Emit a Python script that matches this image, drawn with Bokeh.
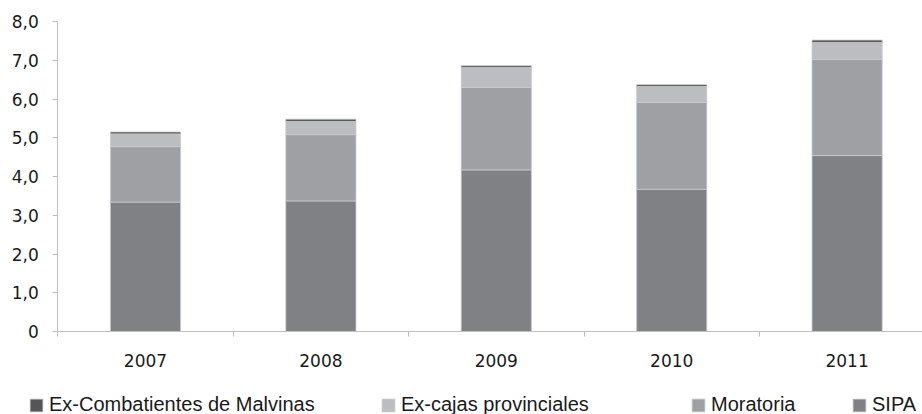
from bokeh.plotting import figure
from bokeh.models import FixedTicker, Legend, LegendItem, ColumnDataSource, Range1d
from bokeh.embed import file_html
from bokeh.resources import INLINE

# ---- data ----
years = ["2007", "2008", "2009", "2010", "2011"]
sipa = [3.34, 3.37, 4.17, 3.67, 4.54]
moratoria = [1.43, 1.71, 2.13, 2.24, 2.48]
ex_cajas = [0.33, 0.34, 0.51, 0.41, 0.44]
ex_combatientes = [0.05, 0.06, 0.05, 0.05, 0.06]

series_keys = ["sipa", "moratoria", "ex_cajas", "ex_combatientes"]
series_names = ["SIPA", "Moratoria", "Ex-cajas provinciales", "Ex-Combatientes de Malvinas"]
series_colors = ["#808185", "#9fa0a4", "#bcbdc1", "#555557"]

y_ticks = [0, 1, 2, 3, 4, 5, 6, 7, 8]
y_tick_labels = ["0", "1,0", "2,0", "3,0", "4,0", "5,0", "6,0", "7,0", "8,0"]

# ---- build ----
x_centers = [i + 0.5 for i in range(len(years))]
source = ColumnDataSource(dict(x=x_centers, sipa=sipa, moratoria=moratoria,
                               ex_cajas=ex_cajas, ex_combatientes=ex_combatientes))

W, H = 922, 414
px_x = 175.4          # pixels per category
px_y = 38.75          # pixels per unit
x0_px, y0_px = 57.3, 331.0
x_range = Range1d(-x0_px / px_x, (W - x0_px) / px_x)
y_range = Range1d(-(H - y0_px) / px_y, y0_px / px_y)

p = figure(width=W, height=H, x_range=x_range, y_range=y_range,
           output_backend="svg", toolbar_location=None,
           min_border_left=0, min_border_right=0,
           min_border_top=0, min_border_bottom=0)

renderers = p.vbar_stack(series_keys, x="x", width=0.4, source=source,
                         fill_color=series_colors, line_color="#c9c9cb",
                         line_width=0.8)

axis_col = "#bfbfbf"
tick_font = "DejaVu Sans"

# x axis (at y = 0)
p.xaxis.fixed_location = 0
p.xaxis.ticker = FixedTicker(ticks=x_centers, minor_ticks=list(range(len(years) + 1)))
p.xaxis.major_label_overrides = {xc: y for xc, y in zip(x_centers, years)}
p.xaxis.major_tick_line_color = None
p.xaxis.major_tick_out = 5
p.xaxis.major_tick_in = 0
p.xaxis.minor_tick_line_color = axis_col
p.xaxis.minor_tick_out = 5
p.xaxis.minor_tick_in = 0
p.xaxis.axis_line_color = axis_col
p.xaxis.bounds = (0, len(years))
p.xaxis.major_label_standoff = 17
p.xaxis.major_label_text_font = tick_font
p.xaxis.major_label_text_font_size = "17px"
p.xaxis.major_label_text_color = "#1a1a1a"

# y axis (at x = 0)
p.yaxis.fixed_location = 0
p.yaxis.ticker = FixedTicker(ticks=y_ticks)
p.yaxis.major_label_overrides = {t: l for t, l in zip(y_ticks, y_tick_labels)}
p.yaxis.major_tick_line_color = axis_col
p.yaxis.major_tick_out = 5
p.yaxis.major_tick_in = 0
p.yaxis.minor_tick_line_color = None
p.yaxis.axis_line_color = axis_col
p.yaxis.bounds = (0, 8)
p.yaxis.major_label_standoff = 14
p.yaxis.major_label_text_font = tick_font
p.yaxis.major_label_text_font_size = "17px"
p.yaxis.major_label_text_color = "#1a1a1a"

p.xgrid.visible = False
p.ygrid.visible = False
p.outline_line_color = None

# legends (one per item, placed under the axis, screen offsets from frame bottom-left)
legend_order = [3, 2, 1, 0]
legend_pos = [(28, -2), (380, -2), (690, -2), (851, -2)]
for idx, pos in zip(legend_order, legend_pos):
    leg = Legend(items=[LegendItem(label=series_names[idx], renderers=[renderers[idx]])],
                 location=pos, orientation="horizontal",
                 padding=0, margin=0, spacing=0,
                 border_line_color=None, background_fill_alpha=0,
                 glyph_width=16, glyph_height=16, label_standoff=5,
                 label_height=13,
                 label_text_font="Liberation Sans", label_text_font_size="20px",
                 label_text_color="#1a1a1a")
    p.add_layout(leg, "center")

open("out.html", "w").write(file_html(p, INLINE))
